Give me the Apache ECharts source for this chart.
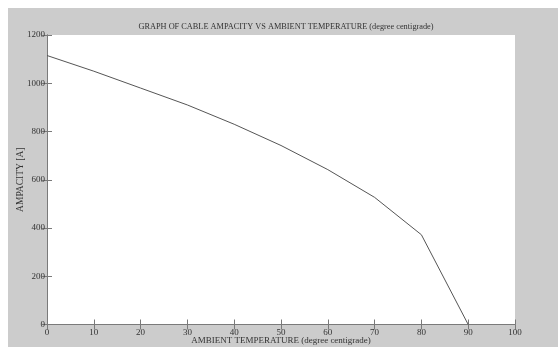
<!DOCTYPE html>
<html>
<head>
<meta charset="utf-8">
<script src="https://cdn.jsdelivr.net/npm/echarts@6/dist/echarts.min.js"></script>
<style>
    html, body { margin: 0; padding: 0; background: #fff; }
    #frame { position: absolute; left: 8px; top: 8px; width: 550px; height: 339px; background: #cccccc; }
    #chart { position: absolute; left: 0; top: 0; width: 558px; height: 347px; }
</style>
</head>
<body>
<div id="frame"></div>
<div id="chart"></div>
<script>
    // temperature (degree centigrade) vs ampacity [A]
    var temperature = [0, 10, 20, 30, 40, 50, 60, 70, 80, 90];
    var ampacity = [1115, 1050, 980, 910, 830, 742, 642, 527, 372, 0];

    var font = "Liberation Serif";
    var axisGray = "#7a7a7a";

    var points = [];
    for (var i = 0; i < temperature.length; i++) {
        points.push([temperature[i], ampacity[i]]);
    }

    var myChart = echarts.init(document.getElementById("chart"));

    // shared style for the boxed MATLAB-like axes
    function boxAxis(pos, showLabel) {
        return {
            type: "value",
            position: pos,
            axisLine: { show: true, lineStyle: { color: axisGray, width: 1 } },
            axisTick: { show: true, inside: true, length: 5, lineStyle: { color: axisGray } },
            splitLine: { show: false },
            axisLabel: {
                show: showLabel, color: "#333", fontFamily: font, fontSize: 9,
                formatter: function (v) { return String(v); } //no thousand separator
            }
        };
    }

    var xMain = boxAxis("bottom", true);
    xMain.min = 0; xMain.max = 100; xMain.interval = 10;
    xMain.axisLabel.margin = 4;
    xMain.name = "AMBIENT TEMPERATURE (degree centigrade)";
    xMain.nameLocation = "middle";
    xMain.nameGap = 12;
    xMain.nameMoveOverlap = false;
    xMain.nameTextStyle = { color: "#333", fontFamily: font, fontSize: 9 };

    var xTop = boxAxis("top", false);
    xTop.min = 0; xTop.max = 100; xTop.interval = 10;

    var yMain = boxAxis("left", true);
    yMain.min = 0; yMain.max = 1200; yMain.interval = 200;
    yMain.axisLabel.margin = 2;
    yMain.name = "AMPACITY [A]";
    yMain.nameLocation = "middle";
    yMain.nameGap = 22;
    yMain.nameMoveOverlap = false;
    yMain.nameTextStyle = { color: "#333", fontFamily: font, fontSize: 9.5 };

    var yRight = boxAxis("right", false);
    yRight.min = 0; yRight.max = 1200; yRight.interval = 200;

    myChart.setOption({
        animation: false,
        title: {
            text: "GRAPH OF CABLE AMPACITY VS AMBIENT TEMPERATURE (degree centigrade)",
            left: 281,
            textAlign: "center",
            top: 18,
            textStyle: { color: "#333", fontFamily: font, fontSize: 8.3, fontWeight: "normal" }
        },
        grid: {
            left: 47, right: 43, top: 35, bottom: 22.5,
            outerBoundsMode: "none",
            show: true, backgroundColor: "#fff", borderWidth: 0
        },
        xAxis: [xMain, xTop],
        yAxis: [yMain, yRight],
        series: [{
            type: "line",
            data: points,
            symbol: "none",
            lineStyle: { color: "#555", width: 1 }
        }]
    });
</script>
</body>
</html>
